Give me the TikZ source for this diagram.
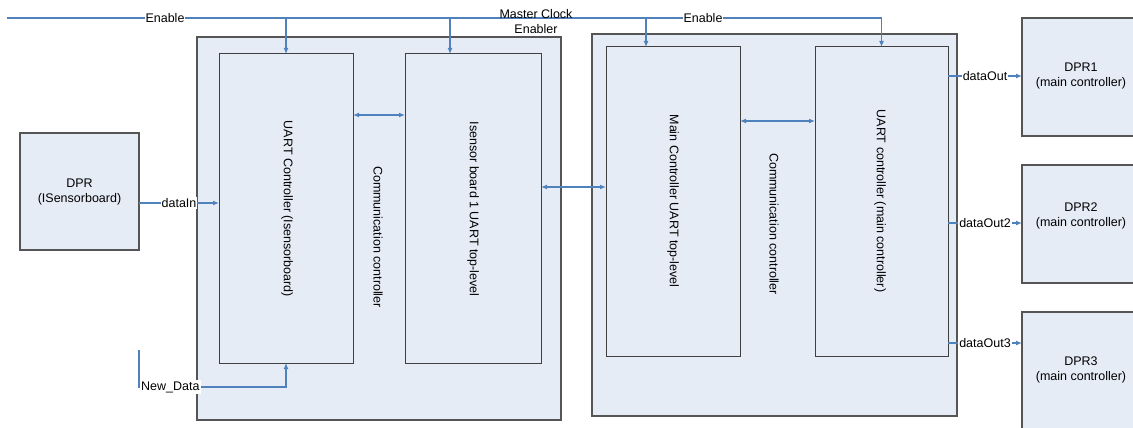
\documentclass[tikz,border=0pt]{standalone}
\usepackage{fontspec}
\setmainfont{Liberation Sans}
\usetikzlibrary{arrows.meta}
\definecolor{boxfill}{RGB}{230,236,246}
\definecolor{wire}{RGB}{79,129,189}
\definecolor{edgegray}{RGB}{85,85,85}
\begin{document}
\begin{tikzpicture}[x=1pt,y=-1pt,
  font=\fontsize{12.5}{15}\selectfont,
  outerbox/.style={draw=edgegray, line width=1.5pt, fill=boxfill, anchor=north west, inner sep=0pt, outer sep=0pt},
  innerbox/.style={draw=black!75, line width=1pt, fill=boxfill, anchor=north west, inner sep=0pt, outer sep=0pt},
  wireline/.style={draw=wire, line width=1.3pt},
  arr/.style={wireline, -{Latex[length=6pt,width=5pt]}},
  darr/.style={wireline, {Latex[length=6pt,width=5pt]}-{Latex[length=6pt,width=5pt]}},
  lbl/.style={fill=white, inner sep=1pt},
  vtext/.style={rotate=-90}]
\useasboundingbox (0,0) rectangle (1133,428);
\clip (0,0) rectangle (1133,428);

% boxes
\node[outerbox, minimum width=364pt, minimum height=383pt] (leftouter) at (197,37) {};
\node[outerbox, minimum width=365pt, minimum height=382pt] (rightouter) at (592,34) {};
\node[innerbox, minimum width=134pt, minimum height=309pt] (uartL) at (219,54) {};
\node[innerbox, minimum width=136pt, minimum height=309pt] (isb) at (405,54) {};
\node[innerbox, minimum width=134pt, minimum height=309pt] (mainc) at (606,47) {};
\node[innerbox, minimum width=133pt, minimum height=309pt] (uartM) at (815,47) {};
\node[outerbox, line width=1.2pt, minimum width=119pt, minimum height=117pt] (dpr) at (20,133) {};
\node[outerbox, line width=1.2pt, minimum width=130pt, minimum height=118pt] (dpr1) at (1022,18) {};
\node[outerbox, line width=1.2pt, minimum width=130pt, minimum height=118pt] (dpr2) at (1022,165) {};
\node[outerbox, line width=1.2pt, minimum width=130pt, minimum height=130pt] (dpr3) at (1022,312) {};

% box texts
\node[align=center] (tdpr) at (dpr.center) {DPR\\(ISensorboard)};
\node[align=center] (tdpr1) at (1081,76) {DPR1\\(main controller)};
\node[align=center] (tdpr2) at (1081,216) {DPR2\\(main controller)};
\node[align=center] (tdpr3) at (1081,370) {DPR3\\(main controller)};
\node[vtext] (tuartL) at (287,209) {UART Controller (Isensorboard)};
\node[vtext] (tisb) at (473,209) {Isensor board 1 UART top-level};
\node[vtext] (tcommL) at (378,237) {Communication controller};
\node[vtext] (tmainc) at (673,201) {Main Controller UART top-level};
\node[vtext] (tcommR) at (774,224) {Communication controller};
\node[vtext] (tuartM) at (880,201) {UART controller (main controller)};

% enable bus
\coordinate (en0) at (7,18);
\draw[arr] (en0) -- (en0 -| uartM.north) -- (uartM.north);
\draw[arr] (en0 -| uartL.north) -- (uartL.north);
\draw[arr] (en0 -| 450,0) -- (isb.north -| 450,0);
\draw[arr] (en0 -| 646,0) -- (mainc.north -| 646,0);
\node[lbl] (enl) at (165,18) {Enable};
\node[lbl] (enr) at (703,18) {Enable};
\node[align=center] (mce) at (536,22) {Master Clock\\Enabler};

% data connections
\coordinate (din) at (0,203);
\draw[arr] (dpr.east |- din) -- (uartL.west |- din) node[midway, lbl] {dataIn};
\draw[darr] (uartL.east |- 0,115) -- (isb.west |- 0,115);
\draw[darr] (isb.east |- 0,187) -- (mainc.west |- 0,187);
\draw[darr] (mainc.east |- 0,121) -- (uartM.west |- 0,121);
\draw[arr] (uartM.east |- 0,76) -- (dpr1.west |- 0,76) node[midway, lbl] {dataOut};
\draw[arr] (uartM.east |- 0,223) -- (dpr2.west |- 0,223) node[midway, lbl] {dataOut2};
\draw[arr] (uartM.east |- 0,343) -- (dpr3.west |- 0,343) node[midway, lbl] {dataOut3};

% new data
\coordinate (nd) at (139,350);
\draw[arr] (nd) -- (139,387) -- (uartL.south |- 0,387) -- (uartL.south);
\node[lbl, anchor=west] (ndl) at (140,387) {New\_Data};
\end{tikzpicture}
\end{document}
